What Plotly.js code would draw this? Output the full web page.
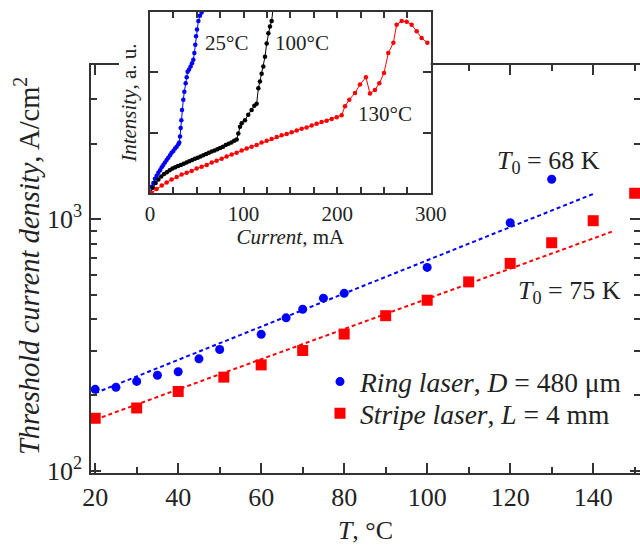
<!DOCTYPE html>
<html>
<head>
<meta charset="utf-8">
<script src="https://cdn.plot.ly/plotly-3.0.1.min.js"></script>
<style>html,body{margin:0;padding:0;overflow:hidden;background:#fff;}#chart{width:640px;height:545px;}</style>
</head>
<body>
<div id="chart"></div>
<script>
// Main chart: threshold current density vs temperature
const ringT = [20, 25, 30, 35, 40, 45, 50, 60, 66, 70, 75, 80, 100, 120, 130];
const ringJ = [211, 215, 227, 240, 248, 279, 304, 349, 406, 439, 486, 508, 644, 969, 1442];
const stripeT = [20, 30, 40, 51, 60, 70, 80, 90, 100, 110, 120, 130, 140, 150];
const stripeJ = [162, 178, 207, 236, 264, 301, 350, 414, 477, 564, 668, 807, 987, 1269];
const ringFitT = [20, 140];
const ringFitJ = [204, 1261];
const stripeFitT = [20, 144.5];
const stripeFitJ = [160, 893];

// Inset: intensity vs current
const c25 = [0, 1.8, 3.6, 5.3, 7.1, 8.9, 10.7, 12.5, 14.2, 16.0, 17.8, 19.6, 21.4, 23.1, 24.9, 26.7, 28.5, 30.3, 31.3,
  32.1, 32.8, 33.5, 34.2, 35.6, 36.7, 38.1, 39.2, 40.2, 41.7, 43.4, 44.9, 46.3, 47.4, 48.4, 49.2, 50.2, 51.7, 53.4, 55.2, 56.5];
const i25 = [0, 0.11, 0.17, 0.24, 0.29, 0.34, 0.38, 0.43, 0.47, 0.51, 0.55, 0.59, 0.63, 0.67, 0.70, 0.74, 0.77, 0.81, 0.84,
  0.94, 1.08, 1.21, 1.38, 1.55, 1.68, 1.82, 1.92, 2.01, 2.05, 2.10, 2.15, 2.21, 2.32, 2.46, 2.60, 2.71, 2.85, 2.94, 2.99, 3.08];
const c100 = [0, 3, 6, 9, 12, 15, 18, 21, 24, 27, 30, 33, 36, 39, 42, 45, 48, 51, 54, 57, 60, 63, 66, 69, 72, 75, 78, 81, 84, 87, 90, 92.6,
  94.4, 96.2, 98, 101.5, 105, 108.6, 111.5, 114, 115.8, 117.5, 119.3, 121.1, 122.9, 124.7, 126.5, 128.2, 130, 131.5];
const i100 = [0, 0.09, 0.17, 0.23, 0.28, 0.32, 0.35, 0.38, 0.41, 0.43, 0.45, 0.47, 0.49, 0.51, 0.53, 0.55, 0.57, 0.59, 0.61, 0.63, 0.65, 0.67, 0.69, 0.71, 0.73, 0.75, 0.77, 0.80, 0.82, 0.84, 0.87, 0.89,
  0.99, 1.10, 1.16, 1.21, 1.30, 1.38, 1.45, 1.48, 1.74, 1.85, 1.98, 2.10, 2.26, 2.48, 2.65, 2.76, 2.85, 3.05];
const c130 = [1.8, 7.1, 12.5, 17.8, 23.1, 28.5, 33.8, 39.2, 44.5, 49.9, 55.2, 60.6, 66.0, 71.2, 76.6, 81.9, 87.3, 92.6, 98.0, 103.3, 108.6, 114.0, 119.3, 124.7, 130.0, 135.4, 140.7, 146.1, 151.4, 156.8, 162.1, 167.4, 172.8, 178.1, 183.4, 188.8, 194.2, 199.5, 204.8,
  208.4, 213.0, 219.1, 224.4, 230.8, 235.1, 240.4, 245.1, 250.1, 254.7, 260.1, 263.6, 269.0, 274.3, 279.6, 285.0, 290.3, 296.4];
const i130 = [0.01, 0.07, 0.13, 0.18, 0.23, 0.27, 0.31, 0.34, 0.37, 0.41, 0.44, 0.47, 0.51, 0.54, 0.57, 0.61, 0.64, 0.67, 0.71, 0.74, 0.77, 0.80, 0.84, 0.87, 0.90, 0.93, 0.96, 0.98, 1.01, 1.04, 1.07, 1.09, 1.12, 1.15, 1.18, 1.20, 1.23, 1.26, 1.29,
  1.44, 1.55, 1.66, 1.80, 1.92, 1.65, 1.71, 1.82, 1.99, 2.32, 2.49, 2.79, 2.85, 2.84, 2.79, 2.68, 2.57, 2.49];

const xTickVals = [20, 40, 60, 80, 100, 120, 140];
const yTickVals = [100, 1000];
const yTickText = ['10<sup>2</sup>', '10<sup>3</sup>'];
const yMinorVals = [200, 300, 400, 500, 600, 700, 800, 900, 2000, 3000];
const insetTickVals = [0, 100, 200, 300];

const FONT = 'Liberation Serif, Times New Roman, serif';
const INK = '#222';
const AX = '#333';
const BLUE = '#0000ff';
const RED = '#ff0000';
const BLACK = '#000000';

const Y_RANGE = [1.992, 3.613];

const traces = [
  {x: ringFitT, y: ringFitJ, mode: 'lines', line: {color: BLUE, width: 2, dash: '4px,3px'}, showlegend: false, hoverinfo: 'skip'},
  {x: stripeFitT, y: stripeFitJ, mode: 'lines', line: {color: RED, width: 2, dash: '4px,3px'}, showlegend: false, hoverinfo: 'skip'},
  {x: ringT, y: ringJ, mode: 'markers', name: '<i>Ring laser</i>, <i>D</i> = 480 μm', legend: 'legend',
   marker: {symbol: 'circle', size: 9, color: BLUE}},
  {x: stripeT, y: stripeJ, mode: 'markers', name: '<i>Stripe laser</i>, <i>L</i> = 4 mm', legend: 'legend2',
   marker: {symbol: 'square', size: 11, color: RED}},
  {x: [], y: [], xaxis: 'x', yaxis: 'y3', mode: 'markers', showlegend: false, hoverinfo: 'skip'},
  {x: c25, y: i25, xaxis: 'x2', yaxis: 'y2', mode: 'lines+markers', showlegend: false,
   line: {color: BLUE, width: 1}, marker: {size: 4.5, color: BLUE}},
  {x: c100, y: i100, xaxis: 'x2', yaxis: 'y2', mode: 'lines+markers', showlegend: false,
   line: {color: BLACK, width: 1}, marker: {size: 4.5, color: BLACK}},
  {x: c130, y: i130, xaxis: 'x2', yaxis: 'y2', mode: 'lines+markers', showlegend: false,
   line: {color: RED, width: 1}, marker: {size: 4.5, color: RED}}
];

const W = 570, H = 461, L = 70, T = 12;
const px = v => (v - L) / W;
const py = v => (T + H - v) / H;
const legFont = {family: FONT, size: 27.5, color: INK};

const layout = {
  width: 640, height: 545,
  margin: {l: L, r: 0, t: T, b: 72, pad: 0},
  paper_bgcolor: '#fff', plot_bgcolor: '#fff',
  font: {family: FONT, size: 26, color: INK},
  showlegend: true,
  legend: {x: px(320), y: py(381.7), xanchor: 'left', yanchor: 'middle', bgcolor: 'rgba(0,0,0,0)',
           font: legFont, itemwidth: 30},
  legend2: {x: px(320), y: py(413.3), xanchor: 'left', yanchor: 'middle', bgcolor: 'rgba(0,0,0,0)',
           font: legFont, itemwidth: 30},
  xaxis: {
    domain: [px(91), 1], anchor: 'y', range: [18.99, 151.28],
    tickmode: 'array', tickvals: xTickVals,
    ticks: 'inside', ticklen: 10, tickwidth: 2, tickcolor: AX,
    minor: {tickmode: 'linear', tick0: 0, dtick: 10, ticks: 'inside', ticklen: 6, tickwidth: 2, tickcolor: AX},
    showline: true, linewidth: 2, linecolor: AX, mirror: 'ticks',
    showgrid: false, zeroline: false,
    tickfont: {family: FONT, size: 26, color: INK},
    title: {text: '<i>T</i>, °C', font: {family: FONT, size: 26, color: INK}, standoff: 16}
  },
  yaxis: {
    domain: [0, (473 - 65) / H], anchor: 'x', type: 'log', range: Y_RANGE,
    tickmode: 'array', tickvals: yTickVals, showticklabels: false,
    ticks: 'inside', ticklen: 10, tickwidth: 2, tickcolor: AX,
    minor: {tickmode: 'array', tickvals: yMinorVals, ticks: 'inside', ticklen: 6, tickwidth: 2, tickcolor: AX},
    showline: true, linewidth: 2, linecolor: AX, mirror: 'ticks',
    showgrid: false, zeroline: false
  },
  yaxis3: {
    overlaying: 'y', anchor: 'free', position: px(82), side: 'left', type: 'log', range: Y_RANGE,
    tickmode: 'array', tickvals: yTickVals, ticktext: yTickText,
    ticks: '', showline: false, showgrid: false, zeroline: false,
    tickfont: {family: FONT, size: 26, color: INK}
  },
  xaxis2: {
    domain: [px(150), px(430.7)], anchor: 'y2', range: [0, 300],
    tickmode: 'array', tickvals: insetTickVals,
    ticks: 'inside', ticklen: 6, tickwidth: 2, tickcolor: AX,
    minor: {tickmode: 'linear', tick0: 0, dtick: 25, ticks: 'inside', ticklen: 6, tickwidth: 2, tickcolor: AX},
    showline: true, linewidth: 2, linecolor: AX, mirror: 'ticks',
    showgrid: false, zeroline: false,
    tickfont: {family: FONT, size: 21, color: INK},
    title: {text: '<i>Current</i>, mA', font: {family: FONT, size: 21, color: INK}, standoff: 4}
  },
  yaxis2: {
    domain: [py(193.3), 1], anchor: 'x2', range: [0, 3],
    tickmode: 'array', tickvals: [1, 2], showticklabels: false,
    ticks: 'inside', ticklen: 8, tickwidth: 2, tickcolor: AX,
    showline: true, linewidth: 2, linecolor: AX, mirror: 'ticks',
    showgrid: false, zeroline: false,
    title: {text: '<i>Intensity</i>, a. u.', font: {family: FONT, size: 21, color: INK}, standoff: 6}
  },
  shapes: [
    {type: 'rect', xref: 'paper', yref: 'paper', x0: px(119), x1: px(148), y0: py(71), y1: py(59),
     fillcolor: '#fff', line: {width: 0}, layer: 'above'}
  ],
  annotations: [
    {xref: 'paper', yref: 'paper', x: px(27), y: py(266), text: '<i>Threshold current density</i>, A/cm<sup>2</sup>', textangle: -90, showarrow: false, xanchor: 'center', yanchor: 'middle', font: {family: FONT, size: 28.5, color: INK}},
    {xref: 'paper', yref: 'paper', x: px(226), y: py(43), text: '25°C', showarrow: false, xanchor: 'center', yanchor: 'middle', font: {family: FONT, size: 21, color: INK}},
    {xref: 'paper', yref: 'paper', x: px(302), y: py(43), text: '100°C', showarrow: false, xanchor: 'center', yanchor: 'middle', font: {family: FONT, size: 21, color: INK}},
    {xref: 'paper', yref: 'paper', x: px(385), y: py(114), text: '130°C', showarrow: false, xanchor: 'center', yanchor: 'middle', font: {family: FONT, size: 21, color: INK}},
    {xref: 'paper', yref: 'paper', x: px(548), y: py(162), text: '<i>T</i><sub>0</sub> = 68 K', showarrow: false, xanchor: 'center', yanchor: 'middle', font: {family: FONT, size: 26, color: INK}},
    {xref: 'paper', yref: 'paper', x: px(569), y: py(292), text: '<i>T</i><sub>0</sub> = 75 K', showarrow: false, xanchor: 'center', yanchor: 'middle', font: {family: FONT, size: 26, color: INK}}
  ]
};

Plotly.newPlot('chart', traces, layout, {staticPlot: true, displayModeBar: false});
</script>
</body>
</html>
